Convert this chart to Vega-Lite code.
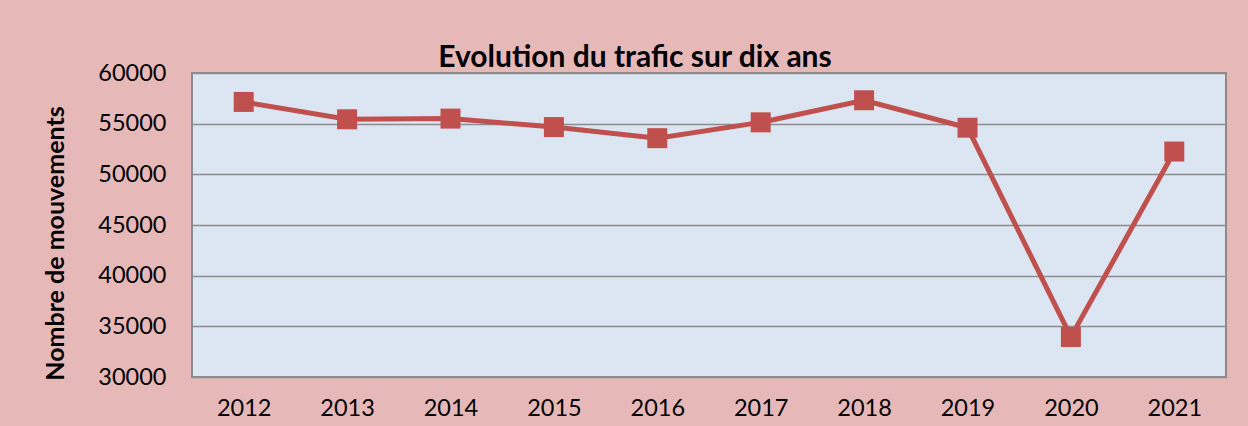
{
  "$schema": "https://vega.github.io/schema/vega-lite/v6.json",
  "autosize": {"type": "none"},
  "width": 1034,
  "height": 304,
  "padding": {"left": 192, "top": 73, "right": 22, "bottom": 49},
  "background": "#E6B9B8",
  "config": {
    "view": {"fill": "#DCE6F2", "stroke": "#8C8C8C", "strokeWidth": 2},
    "font": "Lato"
  },
  "title": {
    "text": "Evolution du trafic sur dix ans",
    "font": "Lato",
    "fontSize": 30,
    "fontWeight": "bold",
    "color": "#000000",
    "anchor": "middle",
    "dx": -74,
    "dy": 16,
    "offset": 4
  },
  "data": {
    "values": [
      {"annee": "2012", "mouvements": 57145},
      {"annee": "2013", "mouvements": 55430},
      {"annee": "2014", "mouvements": 55500},
      {"annee": "2015", "mouvements": 54660},
      {"annee": "2016", "mouvements": 53570},
      {"annee": "2017", "mouvements": 55130},
      {"annee": "2018", "mouvements": 57310},
      {"annee": "2019", "mouvements": 54600},
      {"annee": "2020", "mouvements": 33950},
      {"annee": "2021", "mouvements": 52250}
    ]
  },
  "encoding": {
    "x": {
      "field": "annee",
      "type": "ordinal",
      "axis": {
        "title": null,
        "labelAngle": 0,
        "labelFontSize": 23.5,
        "labelColor": "#000000",
        "labelFont": "Lato",
        "labelPadding": 19,
        "domain": false,
        "ticks": false,
        "grid": false
      }
    },
    "y": {
      "field": "mouvements",
      "type": "quantitative",
      "scale": {"domain": [30000, 60000], "nice": false, "zero": false},
      "axis": {
        "title": "Nombre de mouvements",
        "titleFontSize": 25,
        "titleFont": "Lato",
        "titleFontWeight": "bold",
        "titleColor": "#000000",
        "titleAngle": -90,
        "titleX": -137,
        "titleY": 170,
        "titleAlign": "center",
        "titleBaseline": "middle",
        "values": [30000, 35000, 40000, 45000, 50000, 55000, 60000],
        "format": "d",
        "labelFontSize": 23.5,
        "labelFont": "Lato",
        "labelColor": "#000000",
        "labelPadding": 26,
        "ticks": false,
        "domain": false,
        "grid": true,
        "gridColor": "#8C8C8C",
        "gridWidth": 1.5,
        "gridOpacity": 1
      }
    }
  },
  "layer": [
    {
      "mark": {"type": "line", "color": "#C0504D", "strokeWidth": 5}
    },
    {
      "mark": {"type": "point", "shape": "square", "filled": true, "size": 400, "color": "#C0504D", "opacity": 1}
    }
  ]
}
